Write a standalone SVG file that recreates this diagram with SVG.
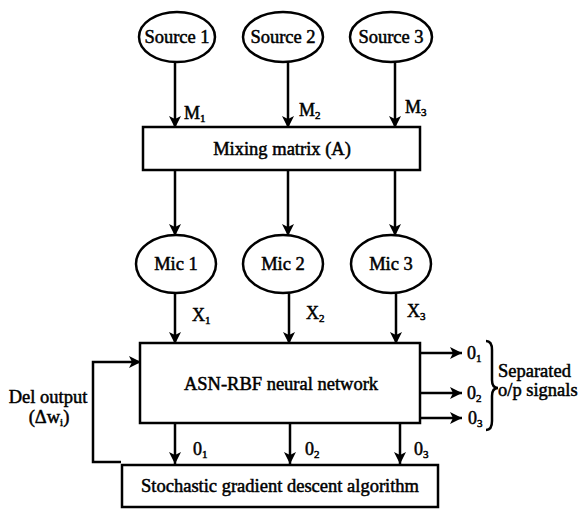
<svg xmlns="http://www.w3.org/2000/svg" width="579" height="515" viewBox="0 0 579 515">
  <style>
    .shape { fill: #fff; stroke: #000; stroke-width: 2.5; }
    .line { fill: none; stroke: #000; stroke-width: 2.5; }
    text { font-family: "Liberation Serif", "Times New Roman", serif; fill: #000; stroke: #000; stroke-width: 0.5; }
    .node { font-size: 18.5px; text-anchor: middle; dominant-baseline: central; }
    .lbl { font-size: 18px; }
    .sub { font-size: 11px; }
    .note { font-size: 18.5px; }
  </style>
  <defs>
    <marker id="arrow" viewBox="0 0 12 12" refX="12" refY="6" markerWidth="12" markerHeight="12" markerUnits="userSpaceOnUse" orient="auto">
      <path d="M0,0 L12,6 L0,12 L3,6 Z" fill="#000" stroke="none"/>
    </marker>
  </defs>
  <rect width="579" height="515" fill="#fff"/>

  <!-- sources -->
  <g id="source1"><ellipse class="shape" cx="177" cy="37" rx="38" ry="25"/><text class="node" x="177" y="37">Source 1</text></g>
  <g id="source2"><ellipse class="shape" cx="283" cy="37" rx="40" ry="25"/><text class="node" x="283" y="37">Source 2</text></g>
  <g id="source3"><ellipse class="shape" cx="391" cy="37" rx="41" ry="25"/><text class="node" x="391" y="37">Source 3</text></g>

  <!-- mixing stage -->
  <g id="mixing"><rect class="shape" x="143" y="127" width="277" height="43"/><text class="node" x="282" y="148.5">Mixing matrix (A)</text></g>

  <!-- microphones -->
  <g id="mic1"><ellipse class="shape" cx="176" cy="264" rx="40" ry="29"/><text class="node" x="176" y="264">Mic 1</text></g>
  <g id="mic2"><ellipse class="shape" cx="283" cy="264" rx="40" ry="29"/><text class="node" x="283" y="264">Mic 2</text></g>
  <g id="mic3"><ellipse class="shape" cx="391" cy="264" rx="40" ry="29"/><text class="node" x="391" y="264">Mic 3</text></g>

  <!-- network -->
  <g id="asnrbf"><rect class="shape" x="140" y="343" width="280" height="80"/><text class="node" x="281" y="384">ASN-RBF neural network</text></g>

  <!-- training -->
  <g id="sgd"><rect class="shape" x="122" y="465" width="316" height="42"/><text class="node" x="280" y="486">Stochastic gradient descent algorithm</text></g>

  <g id="connectors">
    <!-- sources to mixing matrix -->
    <line class="line" x1="175" y1="62" x2="175" y2="128" marker-end="url(#arrow)"/>
    <line class="line" x1="288" y1="62" x2="288" y2="128" marker-end="url(#arrow)"/>
    <line class="line" x1="395" y1="62" x2="395" y2="128" marker-end="url(#arrow)"/>
    <!-- mixing matrix to mics -->
    <line class="line" x1="175" y1="170" x2="175" y2="236" marker-end="url(#arrow)"/>
    <line class="line" x1="288" y1="170" x2="288" y2="236" marker-end="url(#arrow)"/>
    <line class="line" x1="395" y1="170" x2="395" y2="236" marker-end="url(#arrow)"/>
    <!-- mics to network -->
    <line class="line" x1="175" y1="293" x2="175" y2="344" marker-end="url(#arrow)"/>
    <line class="line" x1="289" y1="293" x2="289" y2="344" marker-end="url(#arrow)"/>
    <line class="line" x1="396" y1="293" x2="396" y2="344" marker-end="url(#arrow)"/>
    <!-- network outputs -->
    <line class="line" x1="420" y1="353" x2="462" y2="353" marker-end="url(#arrow)"/>
    <line class="line" x1="420" y1="393" x2="462" y2="393" marker-end="url(#arrow)"/>
    <line class="line" x1="420" y1="418" x2="462" y2="418" marker-end="url(#arrow)"/>
    <!-- network to training -->
    <line class="line" x1="175" y1="423" x2="175" y2="464" marker-end="url(#arrow)"/>
    <line class="line" x1="290" y1="423" x2="290" y2="464" marker-end="url(#arrow)"/>
    <line class="line" x1="400" y1="423" x2="400" y2="464" marker-end="url(#arrow)"/>
    <!-- weight update feedback -->
    <polyline class="line" points="121,462 93,462 93,362 141,362" marker-end="url(#arrow)"/>
    <!-- output brace -->
    <path class="line" stroke-width="2.2" d="M486,341 Q492,341 492,350 L492,380 Q492,388 498,388 Q492,388 492,396 L492,421 Q492,430 486,430"/>
  </g>

  <!-- signal labels -->
  <g id="labels">
    <text class="lbl" x="184" y="119">M<tspan class="sub" dy="3">1</tspan></text>
    <text class="lbl" x="299" y="116">M<tspan class="sub" dy="3">2</tspan></text>
    <text class="lbl" x="405" y="113">M<tspan class="sub" dy="3">3</tspan></text>
    <text class="lbl" x="192" y="321">X<tspan class="sub" dy="3">1</tspan></text>
    <text class="lbl" x="306" y="319">X<tspan class="sub" dy="3">2</tspan></text>
    <text class="lbl" x="407" y="317">X<tspan class="sub" dy="3">3</tspan></text>
    <text class="lbl" x="467" y="359">0<tspan class="sub" dy="3">1</tspan></text>
    <text class="lbl" x="467" y="399">0<tspan class="sub" dy="3">2</tspan></text>
    <text class="lbl" x="468" y="424">0<tspan class="sub" dy="3">3</tspan></text>
    <text class="lbl" x="193" y="455">0<tspan class="sub" dy="3">1</tspan></text>
    <text class="lbl" x="305" y="455">0<tspan class="sub" dy="3">2</tspan></text>
    <text class="lbl" x="414" y="455">0<tspan class="sub" dy="3">3</tspan></text>
    <text class="note" x="498" y="377">Separated</text>
    <text class="note" x="498" y="396">o/p signals</text>
    <text class="note" x="48" y="403" text-anchor="middle">Del output</text>
    <text class="note" x="49" y="423" text-anchor="middle">(Δw<tspan class="sub" dy="3">i</tspan><tspan dy="-3">)</tspan></text>
  </g>
</svg>
